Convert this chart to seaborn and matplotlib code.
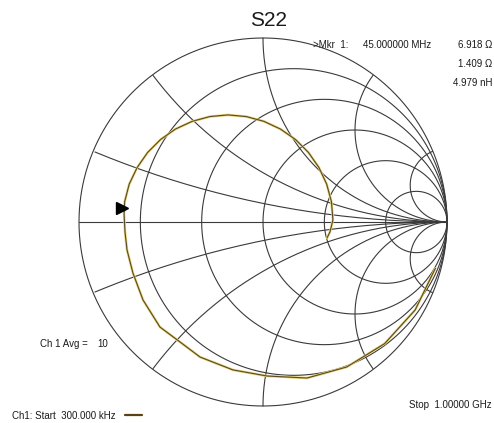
import numpy as np
import pandas as pd
import seaborn as sns
import matplotlib.pyplot as plt
from matplotlib.lines import Line2D

# S22 trace, reflection coefficient (300 kHz -> 1 GHz)
gamma_re = [0.937, 0.827, 0.661, 0.455, 0.239, 0.022, -0.163, -0.342, -0.451,
            -0.560, -0.652, -0.707, -0.739, -0.750, -0.755, -0.752, -0.727,
            -0.684, -0.627, -0.557, -0.476, -0.385, -0.289, -0.190, -0.091,
            0.005, 0.095, 0.177, 0.247, 0.304, 0.346, 0.372, 0.380, 0.364, 0.348]
gamma_im = [-0.251, -0.478, -0.661, -0.788, -0.848, -0.837, -0.804, -0.734, -0.652,
            -0.571, -0.424, -0.277, -0.152, -0.054, 0.043, 0.110, 0.206,
            0.296, 0.378, 0.448, 0.505, 0.547, 0.573, 0.582, 0.573,
            0.547, 0.505, 0.448, 0.378, 0.296, 0.206, 0.110, 0.011, -0.054, -0.087]

# marker 1 readout
mkr_freq = "45.000000 MHz"
mkr_r_ohm = 6.918
mkr_x_ohm = 1.409
mkr_l = "4.979 nH"
z0 = 50.0

# graticule
r_circles = [0.2, 0.5, 1, 2, 5]
x_arcs = [0.2, 0.5, 1, 2, 5]

sns.set_theme(style="white")
plt.rcParams["font.family"] = ["Liberation Sans", "DejaVu Sans"]

W, H = 494, 423
fig = plt.figure(figsize=(W / 100, H / 100), dpi=100)
ax = fig.add_axes([79 / W, 1 - 406 / H, 368 / W, 368 / H])
ax.set_xlim(-1, 1)
ax.set_ylim(-1, 1)
ax.set_aspect("auto")
ax.axis("off")

grid_kw = dict(color="#3a3a3a", lw=0.8, clip_on=False, zorder=1)
t = np.linspace(0, 2 * np.pi, 721)
ax.plot(np.cos(t), np.sin(t), **grid_kw)
ax.plot([-1, 1], [0, 0], **grid_kw)
for r in r_circles:
    c, rad = r / (1 + r), 1 / (1 + r)
    ax.plot(c + rad * np.cos(t), rad * np.sin(t), **grid_kw)
for x in x_arcs:
    for s in (1, -1):
        cx, cy, rad = 1.0, s / x, 1 / x
        px = cx + rad * np.cos(t)
        py = cy + rad * np.sin(t)
        inside = px ** 2 + py ** 2 <= 1.0005
        px = np.where(inside, px, np.nan)
        py = np.where(inside, py, np.nan)
        # roll so the visible part is continuous
        k = np.argmax(~inside)
        ax.plot(np.roll(px, -k), np.roll(py, -k), **grid_kw)

trace = pd.DataFrame({"re": gamma_re, "im": gamma_im})
sns.lineplot(data=trace, x="re", y="im", sort=False, estimator=None,
             color="#e6d27a", lw=1.8, ax=ax, zorder=3)
sns.lineplot(data=trace, x="re", y="im", sort=False, estimator=None,
             color="#5a4a22", lw=0.8, ax=ax, zorder=4)
ax.set_xlabel("")
ax.set_ylabel("")

z = complex(mkr_r_ohm, mkr_x_ohm) / z0
g = (z - 1) / (z + 1)
ax.plot(g.real - 0.012, g.imag + 0.035, marker=">", ms=9, color="black",
        clip_on=False, zorder=5)

def ftext(px, py, s, **kw):
    fig.text(px / W, 1 - py / H, s, va="center", color="#1a1a1a", **kw)

ftext(269, 20, "S22", ha="center", fontsize=15)
small = dict(fontsize=7)
ftext(313, 45, ">Mkr  1:", ha="left", **small)
ftext(363, 45, mkr_freq, ha="left", **small)
ftext(492, 45, f"{mkr_r_ohm:.3f} Ω", ha="right", **small)
ftext(492, 64, f"{mkr_x_ohm:.3f} Ω", ha="right", **small)
ftext(492, 83, mkr_l, ha="right", **small)
ftext(40, 344, "Ch 1 Avg =", ha="left", **small)
ftext(97, 344, "10", ha="left", **small)
ftext(12, 416, "Ch1: Start  300.000 kHz", ha="left", **small)
ftext(492, 405, "Stop  1.00000 GHz", ha="right", **small)
fig.add_artist(Line2D([125 / W, 142 / W], [1 - 415 / H, 1 - 415 / H],
                      color="#5a4216", lw=1.6))

fig.savefig("out.png", dpi=100)
